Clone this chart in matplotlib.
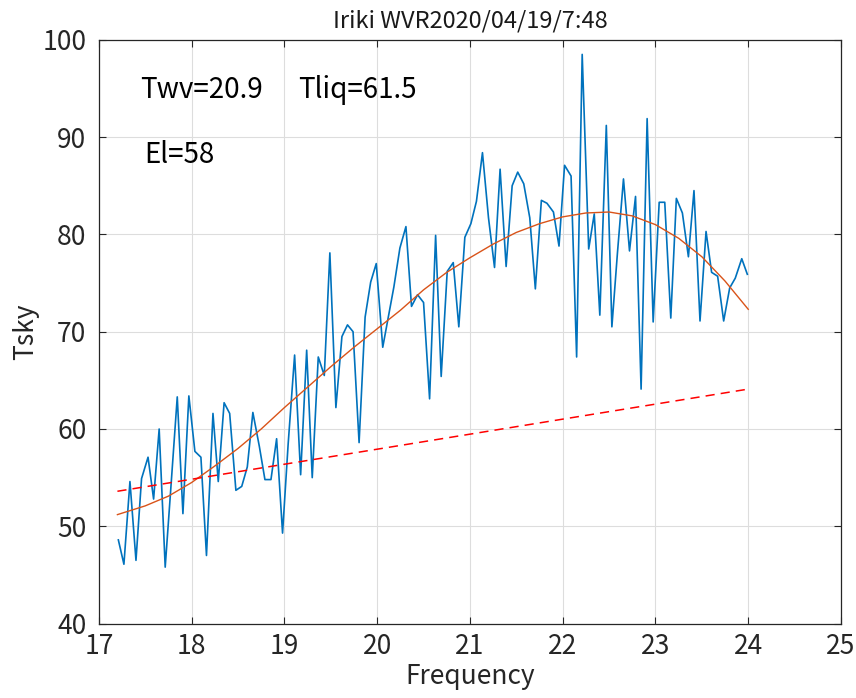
import numpy as np
import matplotlib
matplotlib.use('Agg')
import matplotlib.pyplot as plt

plt.rcParams['font.family'] = ['Noto Sans CJK JP', 'DejaVu Sans']

# 観測スペクトル (読み取り値)
freq = [17.21, 17.27, 17.335, 17.40, 17.46, 17.53, 17.59, 17.65, 17.715, 17.78,
        17.845, 17.906, 17.97, 18.035, 18.10, 18.16, 18.23, 18.287, 18.35, 18.41,
        18.477, 18.54, 18.60, 18.66, 18.73, 18.79, 18.855, 18.916, 18.98, 19.04,
        19.11, 19.175, 19.24, 19.30, 19.365, 19.43, 19.49, 19.555, 19.62, 19.68,
        19.74, 19.805, 19.87, 19.93, 19.99, 20.06, 20.12, 20.18, 20.245, 20.31,
        20.37, 20.435, 20.50, 20.565, 20.63, 20.69, 20.755, 20.82, 20.88, 20.945,
        21.01, 21.07, 21.135, 21.20, 21.265, 21.325, 21.39, 21.455, 21.515, 21.58,
        21.645, 21.705, 21.77, 21.83, 21.90, 21.96, 22.02, 22.09, 22.15, 22.21,
        22.28, 22.34, 22.40, 22.47, 22.53, 22.59, 22.655, 22.72, 22.785, 22.845,
        22.91, 22.975, 23.04, 23.10, 23.165, 23.225, 23.29, 23.355, 23.415, 23.48,
        23.545, 23.605, 23.67, 23.735, 23.80, 23.86, 23.93, 23.99]
tsky = [48.6, 46.1, 54.6, 46.5, 54.9, 57.1, 52.8, 60.0, 45.8, 54.5,
        63.3, 51.3, 63.4, 57.7, 57.1, 47.0, 61.6, 54.6, 62.7, 61.6,
        53.7, 54.1, 56.1, 61.7, 58.2, 54.8, 54.8, 59.0, 49.3, 58.4,
        67.6, 55.3, 68.1, 55.0, 67.4, 65.5, 78.1, 62.2, 69.5, 70.7,
        70.0, 58.6, 71.5, 75.1, 77.0, 68.4, 71.5, 74.6, 78.6, 80.8,
        72.6, 73.8, 73.0, 63.1, 79.9, 65.4, 76.2, 77.1, 70.5, 79.7,
        81.1, 83.4, 88.4, 81.7, 76.6, 86.7, 76.7, 85.0, 86.4, 85.2,
        81.7, 74.4, 83.5, 83.2, 82.3, 78.8, 87.1, 86.0, 67.4, 98.5,
        78.5, 82.1, 71.7, 91.2, 70.5, 78.1, 85.7, 78.3, 83.9, 64.1,
        91.9, 71.0, 83.3, 83.3, 71.4, 83.7, 82.2, 77.7, 84.5, 71.1,
        80.3, 76.1, 75.7, 71.1, 74.5, 75.5, 77.5, 75.9]

# フィット曲線 (読み取り値)
fit_freq = [17.2, 17.5, 17.75, 18.0, 18.25, 18.5, 18.75, 19.0, 19.25, 19.5,
            19.75, 20.0, 20.25, 20.5, 20.75, 21.0, 21.25, 21.5, 21.75, 22.0,
            22.25, 22.5, 22.75, 23.0, 23.25, 23.5, 23.75, 24.0]
fit_tsky = [51.2, 52.1, 53.1, 54.5, 56.2, 58.0, 60.0, 62.2, 64.3, 66.4,
            68.4, 70.3, 72.2, 74.3, 76.1, 77.6, 79.0, 80.2, 81.1, 81.8,
            82.2, 82.3, 81.9, 81.0, 79.6, 77.7, 75.2, 72.3]

# 基線 (破線)
base_freq = [17.2, 24.0]
base_tsky = [53.6, 64.1]

Twv = 20.9
Tliq = 61.5
El = 58

fig = plt.figure(figsize=(8.56, 6.98), dpi=100)
ax = fig.add_axes([0.1155, 0.1066, 0.867, 0.8364])

ax.plot(freq, tsky, color='#0072BD', lw=1.2)
ax.plot(fit_freq, fit_tsky, color='#D95319', lw=1.0)
ax.plot(base_freq, base_tsky, 'r--', lw=1.1, dashes=(6, 4))

ax.set_xlim(17, 25)
ax.set_ylim(40, 100)
ax.set_xticks(range(17, 26))
ax.set_yticks(range(40, 101, 10))
ax.grid(True, color='#dddddd', lw=0.8)
ax.tick_params(direction='in', top=True, right=True, labelsize=19, length=5,
               color='#262626', labelcolor='#262626')
ax.tick_params(axis='x', pad=7)
ax.tick_params(axis='y', pad=9)
for s in ax.spines.values():
    s.set_color('#262626')
    s.set_linewidth(0.9)

ax.set_title('Iriki WVR2020/04/19/7:48', fontsize=17, color='#1a1a1a', pad=9)
ax.set_xlabel('Frequency', fontsize=19, color='#262626', labelpad=2)
ax.set_ylabel('Tsky', fontsize=19, color='#262626', labelpad=2)

ax.text(17.44, 94.8, 'Twv=%.1f' % Twv, fontsize=20, va='center', color='k')
ax.text(19.15, 94.8, 'Tliq=%.1f' % Tliq, fontsize=20, va='center', color='k')
ax.text(17.49, 88.2, 'El=%d' % El, fontsize=20, va='center', color='k')

fig.savefig('out.png', dpi=100)
